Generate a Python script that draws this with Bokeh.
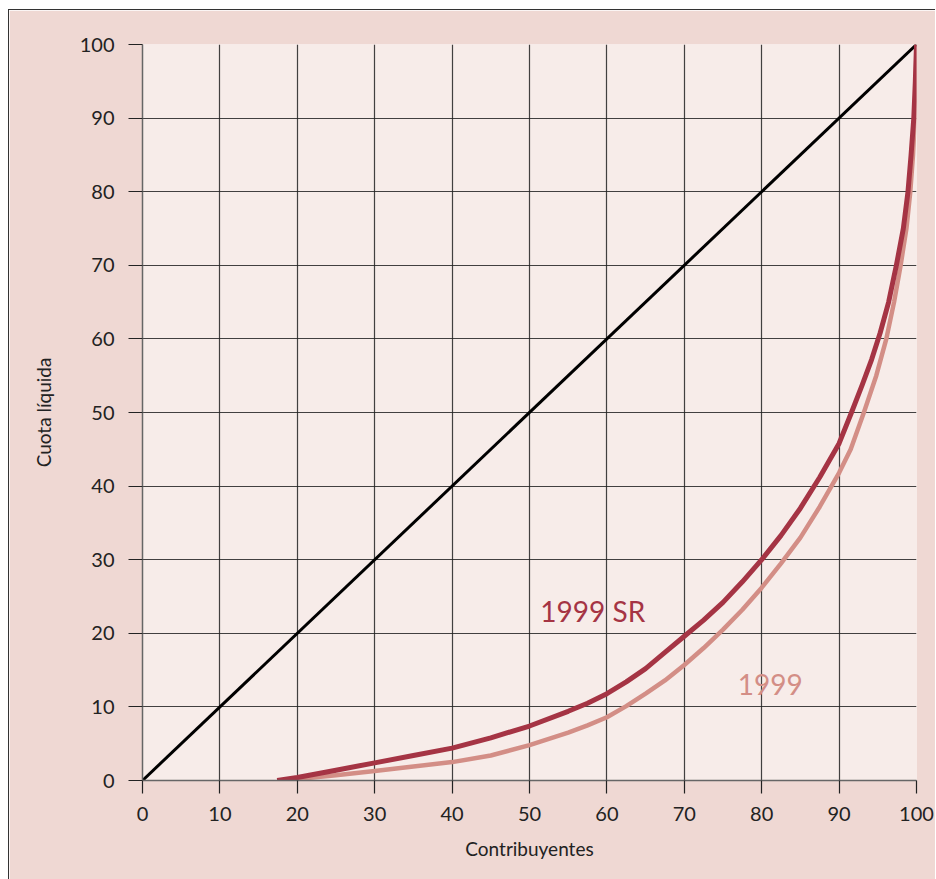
from bokeh.plotting import figure
from bokeh.models import Range1d, FixedTicker
from bokeh.core.properties import value
from bokeh.embed import file_html
from bokeh.resources import INLINE

# Data (percent)
diag_x = [0, 100]
diag_y = [0, 100]

sr_x = [17.4, 20, 25, 30, 35, 40, 45, 50, 55, 57.5, 60, 62.5, 65, 67.5, 70, 72.5, 75, 77.5,
        80, 82.5, 85, 87.5, 90, 91.6, 93.0, 94.2, 95.3, 96.4, 97.4, 98.3, 98.9, 99.3, 99.65, 99.85, 100]
sr_y = [0.0, 0.4, 1.4, 2.4, 3.4, 4.4, 5.8, 7.4, 9.4, 10.5, 11.8, 13.4, 15.2, 17.4, 19.6, 21.8, 24.2, 27.0,
        30.0, 33.3, 37.0, 41.2, 45.8, 50, 53.8, 57.2, 60.8, 65, 70, 75, 80, 85, 90, 95, 100]

y99_x = [19.0, 20, 25, 30, 35, 40, 45, 50, 55, 57.5, 60, 62.5, 65, 67.5, 70, 72.5, 75, 77.5,
         80, 82.5, 85, 87.5, 90, 91.5, 93.2, 94.8, 96.1, 97.1, 97.95, 98.7, 99.2, 99.55, 99.78, 99.92, 100]
y99_y = [0.0, 0.2, 0.7, 1.3, 1.9, 2.5, 3.4, 4.8, 6.5, 7.5, 8.6, 10.1, 11.8, 13.6, 15.7, 18.0, 20.5, 23.2,
         26.2, 29.5, 33.0, 37.2, 41.8, 45, 50, 55, 60, 65, 70, 75, 80, 85, 90, 95, 100]

ticks = [0, 10, 20, 30, 40, 50, 60, 70, 80, 90, 100]

label_text = ["1999 SR", "1999"]
label_x = [51.4, 76.9]
label_y = [23.0, 13.0]
label_colors = ["#a53444", "#d38e86"]

FONT = "Lato"

p = figure(width=927, height=870, output_backend="svg", toolbar_location=None,
           x_range=Range1d(0, 100), y_range=Range1d(0, 100),
           min_border_left=133, min_border_right=20, min_border_top=34, min_border_bottom=100)

p.background_fill_color = "#f7ece9"
p.border_fill_color = "#efd8d3"
p.outline_line_color = None
p.styles = {"margin-left": "8px", "margin-top": "9px",
            "border-top": "1.5px solid #333", "border-left": "1.5px solid #333"}

for ax in (p.xaxis[0], p.yaxis[0]):
    ax.ticker = FixedTicker(ticks=ticks)
    ax.minor_tick_line_color = None
    ax.major_tick_in = 0
    ax.major_tick_line_color = "#222"
    ax.major_tick_line_width = 1.2
    ax.axis_line_color = "#666"
    ax.axis_line_width = 1.5
    ax.major_label_text_font = FONT
    ax.major_label_text_font_size = "20px"
    ax.major_label_text_color = "#222"
    ax.axis_label_text_font = FONT
    ax.axis_label_text_font_size = "19px"
    ax.axis_label_text_font_style = "normal"
    ax.axis_label_text_color = "#222"

p.xaxis.major_tick_out = 13
p.xaxis.major_label_standoff = 13
p.xaxis.axis_label = "Contribuyentes"
p.xaxis.axis_label_standoff = 13

p.yaxis.major_tick_out = 14
p.yaxis.major_label_standoff = 14
p.yaxis.axis_label = "Cuota líquida"
p.yaxis.axis_label_standoff = 22

for g in (p.xgrid[0], p.ygrid[0]):
    g.ticker = FixedTicker(ticks=ticks)
    g.grid_line_color = "#222"
    g.grid_line_alpha = 0.85
    g.grid_line_width = 1.2

p.line(diag_x, diag_y, line_color="black", line_width=3)
p.line(y99_x, y99_y, line_color="#d38e86", line_width=4.5, line_join="round")
p.line(sr_x, sr_y, line_color="#a53444", line_width=5, line_join="round")

p.text(x=label_x, y=label_y, text=label_text, text_color=label_colors,
       text_font=value(FONT), text_font_size="28px", text_baseline="middle", text_align="left")

open("out.html", "w").write(file_html(p, INLINE))
